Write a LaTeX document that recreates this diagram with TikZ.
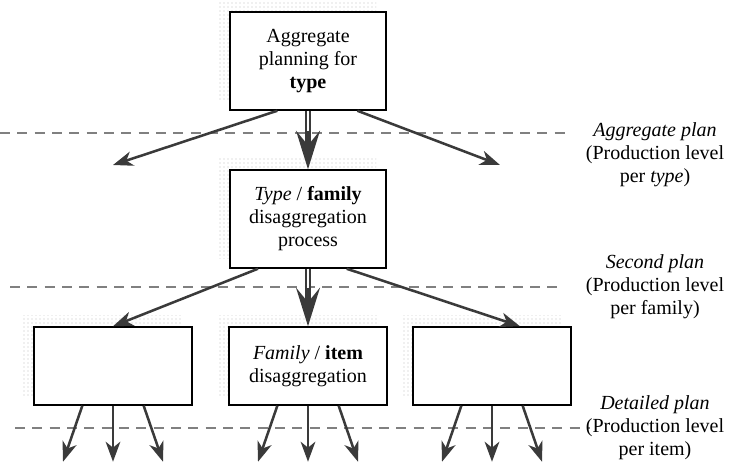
\documentclass[tikz,border=0pt]{standalone}
\usepackage{fontspec}
\setmainfont{LiberationSerif}[Extension=.ttf, UprightFont=*-Regular,
  BoldFont=*-Bold, ItalicFont=*-Italic, BoldItalicFont=*-BoldItalic]
\usetikzlibrary{arrows.meta,patterns,backgrounds}
\definecolor{arrowgray}{RGB}{58,58,58}
\definecolor{dashgray}{RGB}{128,128,128}

\begin{document}
\begin{tikzpicture}[%
      x=0.75pt, y=-0.75pt,
      every node/.style={font=\fontsize{15}{17.25}\selectfont, align=center},
      planbox/.style={draw=black, line width=1.1pt, fill=white, inner sep=0pt},
      bigbox/.style={planbox, minimum width=117pt, minimum height=73.5pt},
      smallbox/.style={planbox, minimum width=118.5pt, minimum height=58.5pt},
      boxshade/.style={pattern=dots, pattern color=gray!50},
      flow/.style={draw=arrowgray, line width=1.9pt,
        -{Stealth[length=15pt, width=11pt, inset=4.5pt]}},
      bighead/.style={draw=arrowgray, line width=1.6pt,
        -{Stealth[length=29pt, width=18pt, inset=11pt]}},
      dline/.style={draw=arrowgray, line width=1.6pt, double=white,
        double distance=1.6pt, shorten >=17pt},
      planline/.style={draw=dashgray, line width=0.9pt, dash pattern=on 7.5pt off 5.5pt},
      ]
      \useasboundingbox (0,0) rectangle (741,463);

      \draw [planline] (0,133) -- (572,133);
      \draw [planline] (10,287) -- (560,287);
      \draw [planline] (15,428) -- (590,428);

      \node [bigbox] (agg) at (308,61) {Aggregate\\planning for\\\textbf{type}};
      \node [bigbox] (fam) at (308,219) {\textit{Type} / \textbf{family}\\disaggregation\\process};
      \node [smallbox] (itemL) at (113,366) {};
      \node [smallbox] (item) at (308,366) {\textit{Family} / \textbf{item}\\disaggregation};
      \node [smallbox] (itemR) at (492,366) {};

      \begin{scope}[on background layer]
        \foreach \b in {agg,fam,itemL,item,itemR}
          \fill [boxshade] ([xshift=-8pt,yshift=8pt]\b.south west)
            rectangle ([xshift=-8pt,yshift=8pt]\b.north east);
      \end{scope}

      \node (aggplan) at (655,155) {\textit{Aggregate plan}\\(Production level\\per \textit{type})};
      \node (secplan) at (655,287) {\textit{Second plan}\\(Production level\\per family)};
      \node (detplan) at (655,428) {\textit{Detailed plan}\\(Production level\\per item)};

      \coordinate (aggL) at (113,165);
      \coordinate (aggR) at (500,165);

      \draw [flow] ([xshift=-23pt]agg.south) -- (aggL);
      \draw [dline] (agg.south) -- (fam.north);
      \draw [bighead] ([yshift=29pt]fam.north) -- (fam.north);
      \draw [flow] ([xshift=37pt]agg.south) -- (aggR);

      \draw [flow] ([xshift=-37.5pt]fam.south) -- (itemL.north);
      \draw [dline] (fam.south) -- (item.north);
      \draw [bighead] ([yshift=29pt]item.north) -- (item.north);
      \draw [flow] ([xshift=29pt]fam.south) -- ([xshift=21pt]itemR.north);

      \foreach \b in {itemL,item,itemR} {
        \coordinate (\b-l) at ([xshift=-37.5pt,yshift=-42pt]\b.south);
        \coordinate (\b-m) at ([yshift=-42pt]\b.south);
        \coordinate (\b-r) at ([xshift=37.5pt,yshift=-42pt]\b.south);
        \draw [flow] ([xshift=-23pt]\b.south) -- (\b-l);
        \draw [flow] (\b.south) -- (\b-m);
        \draw [flow] ([xshift=23pt]\b.south) -- (\b-r);
      }
\end{tikzpicture}
\end{document}
